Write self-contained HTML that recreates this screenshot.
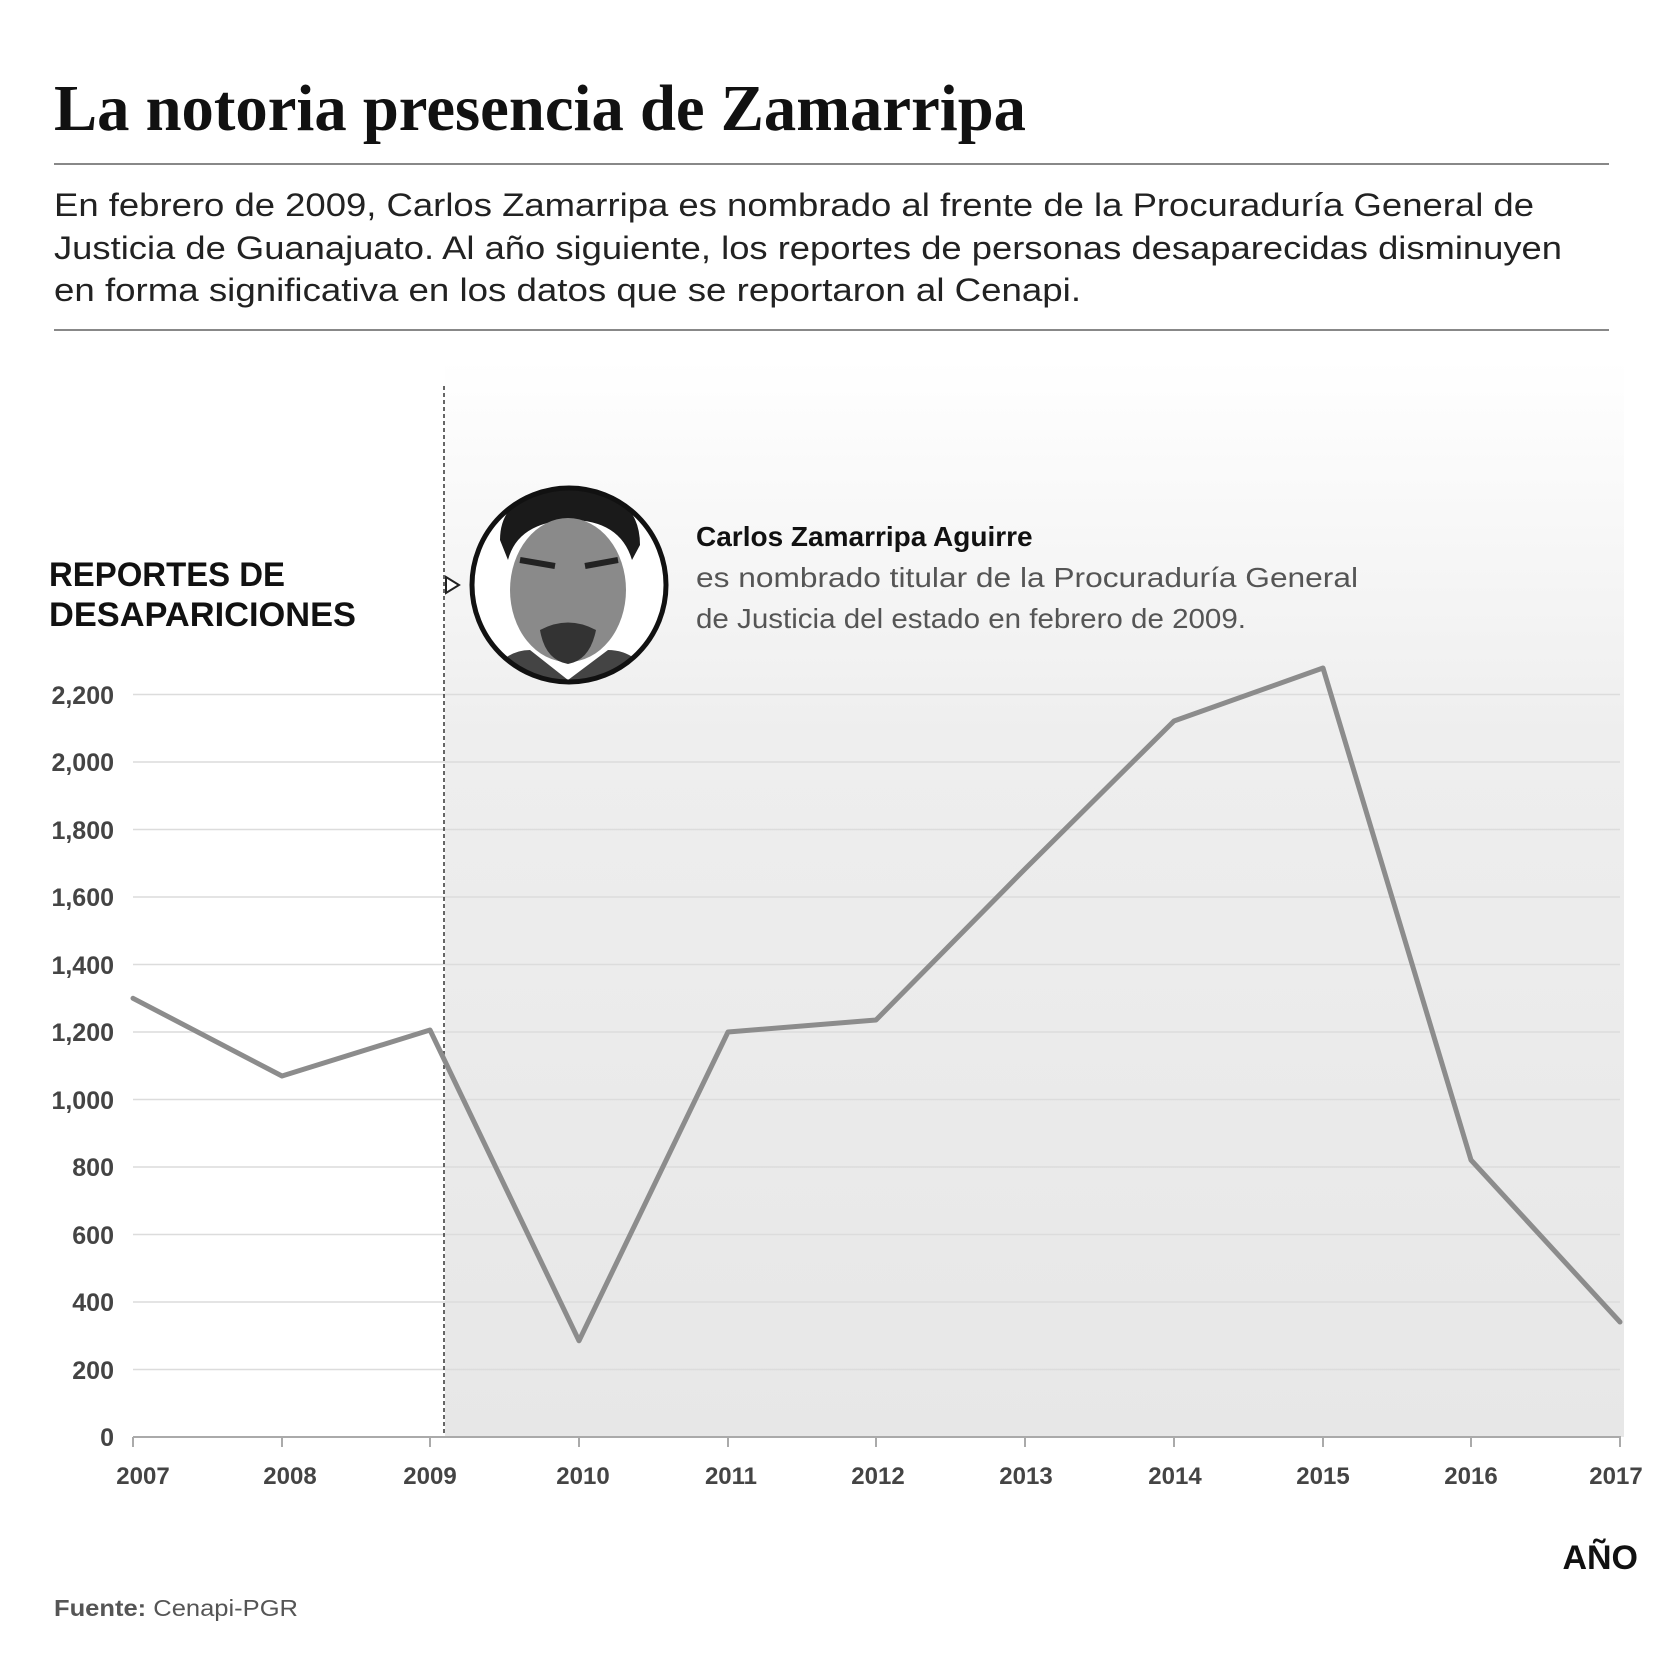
<!DOCTYPE html>
<html><head><meta charset="utf-8"><style>html,body{margin:0;padding:0;background:#fff}svg{display:block}</style></head>
<body>
<svg width="1680" height="1657" viewBox="0 0 1680 1657" xmlns="http://www.w3.org/2000/svg" font-family="'Liberation Sans', sans-serif">
<defs>
<linearGradient id="bg" x1="0" y1="0" x2="0" y2="1">
<stop offset="0" stop-color="#fff"/><stop offset="0.35" stop-color="#eeeeee"/><stop offset="1" stop-color="#e7e7e7"/>
</linearGradient>
<clipPath id="cc"><circle cx="569" cy="585" r="97"/></clipPath>
</defs>
<text x="54" y="130" font-family="'Liberation Serif', serif" font-weight="bold" font-size="66" textLength="972" lengthAdjust="spacingAndGlyphs" fill="#111">La notoria presencia de Zamarripa</text>
<rect x="54" y="163" width="1555" height="2" fill="#888"/>
<g font-size="32" fill="#222">
<text x="54" y="216" textLength="1480" lengthAdjust="spacingAndGlyphs">En febrero de 2009, Carlos Zamarripa es nombrado al frente de la Procuraduría General de</text>
<text x="54" y="259" textLength="1508" lengthAdjust="spacingAndGlyphs">Justicia de Guanajuato. Al año siguiente, los reportes de personas desaparecidas disminuyen</text>
<text x="54" y="301" textLength="1027" lengthAdjust="spacingAndGlyphs">en forma significativa en los datos que se reportaron al Cenapi.</text>
</g>
<rect x="54" y="329" width="1555" height="2" fill="#888"/>
<rect x="445" y="359" width="1179" height="1078" fill="url(#bg)"/>
<g stroke="#dcdcdc" stroke-width="1.5">
<line x1="133" x2="1620" y1="1369.5" y2="1369.5"/><line x1="133" x2="1620" y1="1302" y2="1302"/><line x1="133" x2="1620" y1="1234.5" y2="1234.5"/><line x1="133" x2="1620" y1="1167" y2="1167"/><line x1="133" x2="1620" y1="1099.5" y2="1099.5"/><line x1="133" x2="1620" y1="1032" y2="1032"/><line x1="133" x2="1620" y1="964.5" y2="964.5"/><line x1="133" x2="1620" y1="897" y2="897"/><line x1="133" x2="1620" y1="829.5" y2="829.5"/><line x1="133" x2="1620" y1="762" y2="762"/><line x1="133" x2="1620" y1="694.5" y2="694.5"/>
</g>
<line x1="444" y1="386" x2="444" y2="1437" stroke="#333" stroke-width="1.5" stroke-dasharray="4,3"/>
<path d="M446 577 L459 585 L446 593 Z" fill="#fff" stroke="#222" stroke-width="2"/>
<g clip-path="url(#cc)">
<rect x="470" y="486" width="200" height="200" fill="#fff"/>
<path d="M500 540 Q500 490 570 488 Q640 490 640 545 L632 560 Q620 520 570 520 Q518 522 508 560 Z" fill="#1a1a1a"/>
<ellipse cx="568" cy="590" rx="58" ry="72" fill="#8a8a8a"/>
<path d="M520 560 L555 566 M585 566 L618 560" stroke="#222" stroke-width="6"/>
<path d="M540 630 Q568 615 596 630 Q590 660 568 664 Q545 660 540 630Z" fill="#333"/>
<path d="M480 690 Q500 650 530 650 L568 680 L608 650 Q640 650 660 690Z" fill="#444"/>
</g>
<circle cx="569" cy="585" r="97" fill="none" stroke="#111" stroke-width="5"/>
<text x="696" y="546" font-size="28" font-weight="bold" fill="#111">Carlos Zamarripa Aguirre</text>
<text x="696" y="587" font-size="28" fill="#555" textLength="662" lengthAdjust="spacingAndGlyphs">es nombrado titular de la Procuraduría General</text>
<text x="696" y="628" font-size="28" fill="#555" textLength="550" lengthAdjust="spacingAndGlyphs">de Justicia del estado en febrero de 2009.</text>
<g font-size="34" font-weight="bold" fill="#111">
<text x="49" y="586" textLength="236" lengthAdjust="spacingAndGlyphs">REPORTES DE</text>
<text x="49" y="626" textLength="307" lengthAdjust="spacingAndGlyphs">DESAPARICIONES</text>
</g>
<g font-size="25" font-weight="bold" fill="#444" text-anchor="end">
<text x="114" y="1446">0</text><text x="114" y="1379">200</text><text x="114" y="1311">400</text><text x="114" y="1244">600</text><text x="114" y="1176">800</text><text x="114" y="1109">1,000</text><text x="114" y="1041">1,200</text><text x="114" y="974">1,400</text><text x="114" y="906">1,600</text><text x="114" y="839">1,800</text><text x="114" y="771">2,000</text><text x="114" y="704">2,200</text>
</g>
<line x1="133" y1="1437" x2="1621" y2="1437" stroke="#aaa" stroke-width="2"/>
<g stroke="#aaa" stroke-width="2">
<line x1="133" x2="133" y1="1437" y2="1447"/><line x1="282" x2="282" y1="1437" y2="1447"/><line x1="430" x2="430" y1="1437" y2="1447"/><line x1="579" x2="579" y1="1437" y2="1447"/><line x1="728" x2="728" y1="1437" y2="1447"/><line x1="876" x2="876" y1="1437" y2="1447"/><line x1="1025" x2="1025" y1="1437" y2="1447"/><line x1="1174" x2="1174" y1="1437" y2="1447"/><line x1="1323" x2="1323" y1="1437" y2="1447"/><line x1="1471" x2="1471" y1="1437" y2="1447"/><line x1="1620" x2="1620" y1="1437" y2="1447"/>
</g>
<g font-size="24" font-weight="bold" fill="#444" text-anchor="middle">
<text x="143" y="1484">2007</text><text x="290" y="1484">2008</text><text x="430" y="1484">2009</text><text x="583" y="1484">2010</text><text x="731" y="1484">2011</text><text x="878" y="1484">2012</text><text x="1026" y="1484">2013</text><text x="1175" y="1484">2014</text><text x="1323" y="1484">2015</text><text x="1471" y="1484">2016</text><text x="1616" y="1484">2017</text>
</g>
<polyline fill="none" stroke="#8c8c8c" stroke-width="5" stroke-linejoin="round" stroke-linecap="round"
points="133,998.3 282,1076 430,1030 579,1340.8 728,1032 876,1020 1025,869 1174,721 1323,668 1471,1160 1620,1322"/>
<text x="1638" y="1569" font-size="34" font-weight="bold" fill="#111" text-anchor="end">AÑO</text>
<text x="54" y="1616" font-size="23" fill="#555" textLength="244" lengthAdjust="spacingAndGlyphs"><tspan font-weight="bold">Fuente:</tspan> Cenapi-PGR</text>
</svg>
</body></html>
